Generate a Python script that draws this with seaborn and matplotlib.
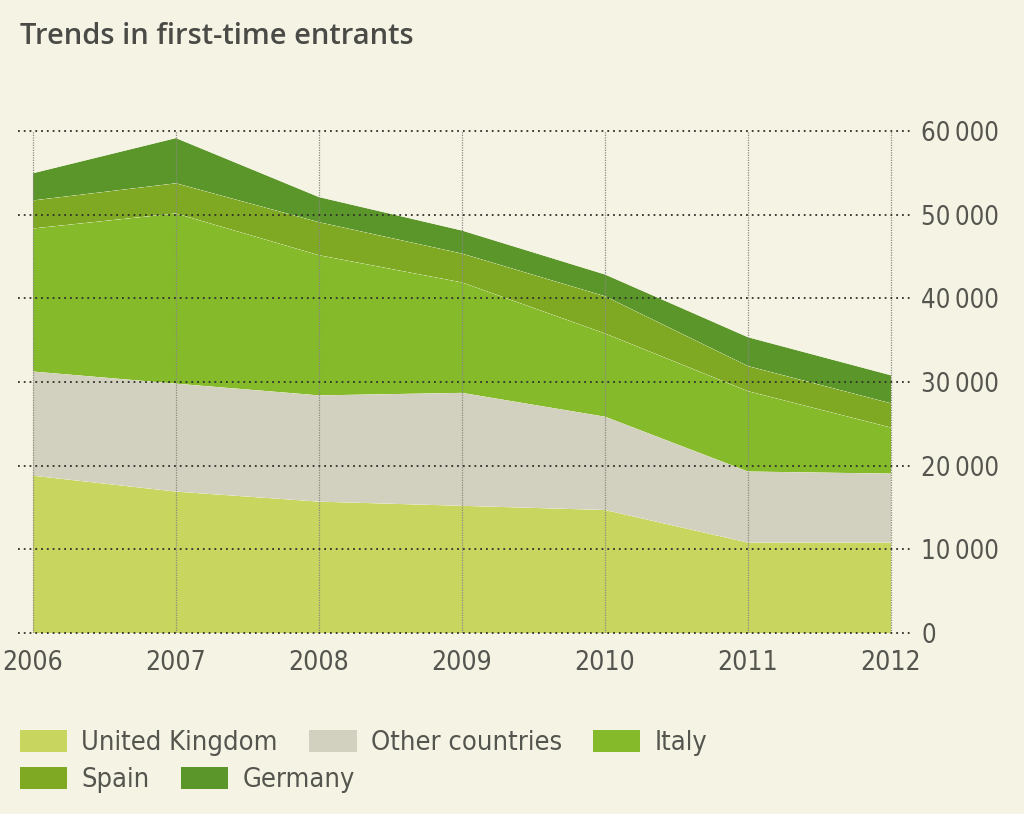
import matplotlib
matplotlib.use("Agg")
import matplotlib.pyplot as plt
import seaborn as sns
import seaborn.objects as so
import pandas as pd
from matplotlib.patches import Patch
from matplotlib.ticker import FuncFormatter

# ---- data ----
years = [2006, 2007, 2008, 2009, 2010, 2011, 2012]
countries = ["United Kingdom", "Other countries", "Italy", "Spain", "Germany"]
united_kingdom = [18800, 16900, 15700, 15200, 14700, 10800, 10800]
other_countries = [12450, 12900, 12700, 13500, 11150, 8500, 8250]
italy = [17100, 20350, 16750, 13200, 9950, 9600, 5500]
spain = [3350, 3600, 3950, 3450, 4450, 3000, 2900]
germany = [3250, 5400, 3000, 2750, 2600, 3450, 3350]
y_ticks = [0, 10000, 20000, 30000, 40000, 50000, 60000]
title = "Trends in first-time entrants"

colors = ["#c8d55f", "#d2d1bf", "#85ba2a", "#7fa923", "#5b962b"]
bg = "#f5f4e4"
txt = "#55554f"

sns.set_theme(style="white")
plt.rcParams["font.family"] = ["DejaVu Sans"]
plt.rcParams["font.stretch"] = "condensed"

series = [united_kingdom, other_countries, italy, spain, germany]
df = pd.DataFrame({
    "year": [y for _ in countries for y in years],
    "value": [v for s in series for v in s],
    "country": [c for c in countries for _ in years],
})

fig = plt.figure(figsize=(10.24, 8.14), dpi=100, facecolor=bg)
ax = fig.add_axes([18 / 1024, 1 - 633 / 814, 892 / 1024, 502 / 814])

(
    so.Plot(df, x="year", y="value", color="country")
    .add(so.Area(alpha=1, edgewidth=0), so.Stack(), legend=False)
    .scale(color=dict(zip(countries, colors)))
    .on(ax)
    .plot()
)

ax.set_facecolor(bg)
x_left = 2006 - 15 * 6 / 858
x_right = 2012 + 19 * 6 / 858
ax.set_xlim(x_left, x_right)
ax.set_ylim(0, 60000)
for s in ax.spines.values():
    s.set_visible(False)
ax.set_xlabel("")
ax.set_ylabel("")
ax.set_xticks(years)
ax.set_xticklabels([str(y) for y in years])
ax.set_yticks(y_ticks)
ax.yaxis.set_major_formatter(FuncFormatter(lambda v, p: "0" if v == 0 else f"{int(v):,}".replace(",", "\u2009")))
ax.yaxis.tick_right()
ax.tick_params(axis="y", length=0, pad=8, labelsize=18.5, labelcolor=txt)
ax.tick_params(axis="x", length=0, pad=12, labelsize=19, labelcolor=txt)
for lab in ax.get_xticklabels() + ax.get_yticklabels():
    lab.set_fontstretch("condensed")
ax.set_axisbelow(False)
ax.yaxis.grid(True, linestyle=(0, (1, 2.2)), color="#2f2f2a", linewidth=1.3)
ax.xaxis.grid(True, linestyle=(0, (1, 1)), color="#8a8a80", linewidth=0.9)
for gl in ax.get_ygridlines():
    gl.set_clip_on(False)

fig.text(20 / 1024, 1 - 37 / 814, title, fontsize=21, fontweight="semibold",
         color="#4a4a46", va="center", ha="left", family=["Open Sans", "DejaVu Sans"],
         fontstretch="normal")

handles = [Patch(facecolor=c, edgecolor="none") for c in colors]
leg_kw = dict(frameon=False, handlelength=1.75, handleheight=0.9,
              handletextpad=0.52, columnspacing=1.15, borderpad=0, borderaxespad=0,
              labelcolor=txt, loc="center left",
              prop=dict(family="DejaVu Sans", stretch="condensed", size=19.5))
leg1 = fig.legend(handles[:3], countries[:3], ncol=3,
                  bbox_to_anchor=(20 / 1024, 1 - 743 / 814), **leg_kw)
leg2 = fig.legend(handles[3:], countries[3:], ncol=2,
                  bbox_to_anchor=(20 / 1024, 1 - 780 / 814), **leg_kw)

fig.savefig("out.png", dpi=100, facecolor=bg)
